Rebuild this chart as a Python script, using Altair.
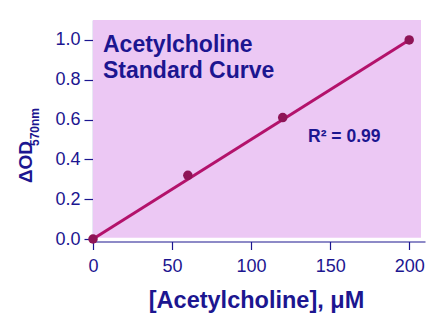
import altair as alt
import pandas as pd

# Data
conc = [0, 60, 120, 200]
od = [0.0, 0.32, 0.61, 1.0]
fit_x = [0, 200]
fit_y = [0.0, 1.0]
x_ticks = [0, 50, 100, 150, 200]
y_ticks = [0.0, 0.2, 0.4, 0.6, 0.8, 1.0]

NAVY = "#1c1690"
FONT = "Liberation Sans"
BG = "#ECC8F4"
LINE = "#B3126B"
PT = "#8E1456"

pts = pd.DataFrame({"x": conc, "y": od})
fit = pd.DataFrame({"x": fit_x, "y": fit_y})

xs = alt.Scale(domain=[0, 210], nice=False, zero=False)
ys = alt.Scale(domain=[-0.0125, 1.1], nice=False, zero=False)

xaxis = alt.Axis(values=x_ticks, format="d", title="[Acetylcholine], μM",
                 titleFont=FONT, titleFontSize=23.5, titleFontWeight="bold",
                 titleColor=NAVY, titleBaseline="alphabetic", titleY=65.5, titleX=163,
                 labelFont=FONT, labelFontSize=18, labelColor=NAVY, labelPadding=8,
                 tickSize=8, tickColor=NAVY, domainColor=NAVY, tickWidth=1.2,
                 domainWidth=1.2, grid=False, labelFlush=False)
yaxis = alt.Axis(values=y_ticks, format=".1f", title=None,
                 labelFont=FONT, labelFontSize=18, labelColor=NAVY, labelPadding=4,
                 tickSize=9, tickColor=NAVY, domainColor=NAVY, tickWidth=1.2,
                 domainWidth=1.2, grid=False, labelFlush=False)

one = pd.DataFrame({"k": [0]})

bg = alt.Chart(one).mark_rect(color=BG).encode(
    x=alt.value(0), x2=alt.value(328), y=alt.value(0), y2=alt.value(217.7))

line = alt.Chart(fit).mark_line(color=LINE, strokeWidth=3).encode(
    x=alt.X("x:Q", scale=xs, axis=xaxis),
    y=alt.Y("y:Q", scale=ys, axis=yaxis))

points = alt.Chart(pts).mark_point(filled=True, color=PT, size=90, opacity=1).encode(
    x=alt.X("x:Q", scale=xs), y=alt.Y("y:Q", scale=ys))

def txt(s, x, y, size, angle=0, align="left", baseline="alphabetic"):
    props = dict(text=s, font=FONT, fontSize=size, fontWeight="bold", color=NAVY,
                 align=align, baseline=baseline)
    if angle:
        props["angle"] = angle
    return alt.Chart(one).mark_text(**props).encode(x=alt.value(x), y=alt.value(y))

t1 = txt("Acetylcholine", 10, 32, 23)
t2 = txt("Standard Curve", 10, 58, 23)
r2 = txt("R² = 0.99", 215, 122, 17.5)
yt1 = txt("ΔOD", -67, 142, 19, angle=270, align="center", baseline="middle")
yt2 = txt("570nm", -58, 107, 12, angle=270, align="center", baseline="middle")

chart = alt.layer(bg, line, points, t1, t2, r2, yt1, yt2).properties(
    width=332, height=221.5,
    autosize=alt.AutoSizeParams(type="none"),
    padding={"left": 93, "top": 20, "right": 15, "bottom": 75.5},
    background="white",
).configure_view(stroke=None)

chart.save("out.html", embed_options={"renderer": "svg", "actions": False})
